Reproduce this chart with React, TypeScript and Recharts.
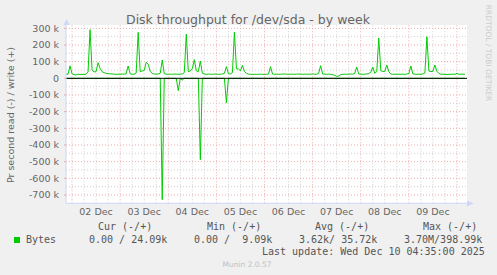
import { ComposedChart, Line, XAxis, YAxis, ReferenceLine } from 'recharts'

// hourly samples, in k (bytes/s), starting Dec 1 21:00
const writeK = [
  26, 24, 75, 28, 22, 20, 25, 23, 24, 23, 25, 38, 292, 50, 38, 40, 94, 60, 40, 34, 30, 28, 27, 26,
  25, 24, 25, 24, 26, 25, 28, 74, 27, 24, 25, 32, 276, 40, 44, 48, 96, 84, 42, 30, 26, 25, 26, 30,
  110, 28, 25, 24, 25, 24, 26, 25, 24, 25, 26, 34, 265, 40, 44, 58, 112, 45, 40, 104, 30, 26, 24, 25,
  25, 24, 26, 25, 24, 25, 26, 30, 70, 28, 26, 34, 278, 58, 56, 45, 78, 40, 30, 25, 24, 23, 24, 24,
  24, 25, 24, 23, 24, 26, 70, 26, 24, 25, 24, 25, 25, 26, 25, 24, 25, 25, 24, 25, 26, 25, 24, 25,
  25, 24, 25, 26, 25, 24, 30, 76, 26, 25, 24, 25, 24, 22, 18, 12, 14, 22, 24, 25, 24, 25, 26, 25,
  30, 68, 26, 25, 24, 25, 26, 28, 36, 68, 30, 40, 242, 45, 42, 40, 80, 40, 26, 24, 25, 24, 25, 24,
  25, 24, 26, 28, 74, 27, 25, 24, 25, 24, 26, 32, 250, 44, 40, 42, 80, 42, 30, 24, 25, 24, 23, 24,
  24, 25, 24, 30, 24, 25, 25, 24,
]

const readK = [
  0, 0, 0, 0, 0, 0, 0, 0, 0, 0, 0, 0, 0, 0, 0, 0, 0, 0, 0, 0, 0, 0, 0, 0,
  0, 0, 0, 0, 0, 0, 0, 0, 0, 0, 0, 0, 0, 0, 0, 0, 0, 0, 0, 0, 0, 0, 0, 0,
  -728, 0, 0, 0, 0, 0, 0, 0, -74, 0, -10, 0, 0, 0, 0, 0, 0, 0, 0, -488, 0, 0, 0, 0,
  0, 0, 0, 0, 0, 0, 0, 0, -146, 0, 0, 0, 0, 0, 0, 0, 0, 0, 0, 0, 0, 0, 0, 0,
  0, 0, 0, 0, 0, 0, 0, 0, 0, 0, 0, 0, 0, 0, 0, 0, 0, 0, 0, 0, 0, 0, 0, 0,
  0, 0, 0, 0, 0, 0, 0, 0, 0, 0, 0, 0, 0, 0, 0, 0, 0, 0, 0, 0, 0, 0, 0, 0,
  0, 0, 0, 0, 0, 0, 0, 0, 0, 0, 0, 0, 0, 0, 0, 0, 0, 0, 0, 0, 0, 0, 0, 0,
  0, 0, 0, 0, 0, 0, 0, 0, 0, 0, 0, 0, 0, 0, 0, 0, 0, 0, 0, 0, 0, 0, 0, 0,
  0, 0, 0, 0, 0, 0, 0, 0,
]

const dayLabels = ['02 Dec', '03 Dec', '04 Dec', '05 Dec', '06 Dec', '07 Dec', '08 Dec', '09 Dec']
const dayLabelHours = [15, 39, 63, 87, 111, 135, 159, 183]
const midnightHours = [3, 27, 51, 75, 99, 123, 147, 171, 195]
const sixHourHours = [
  9, 15, 21, 33, 39, 45, 57, 63, 69, 81, 87, 93, 105, 111, 117,
  129, 135, 141, 153, 159, 165, 177, 183, 189,
]
const yTicks = [-700, -600, -500, -400, -300, -200, -100, 0, 100, 200, 300]
const yMajor = [-700, -600, -500, -400, -300, -200, -100, 100, 200, 300]
const yMinor = [-650, -550, -450, -350, -250, -150, -50, 50, 150, 250]

const data = writeK.map((w, i) => ({ h: i, write: w, read: readK[i] }))

const FONT = 'DejaVu Sans, sans-serif'
const MONO = 'DejaVu Sans Mono, monospace'
const TXT = '#666'
const AXIS = '#cfd6f8'

const mono = (left: number, top: number, text: string) => (
  <div style={{ position: 'absolute', left, top: top - 6, lineHeight: '12px', fontFamily: MONO, fontSize: 10, color: '#555', whiteSpace: 'pre' }}>
    {text}
  </div>
)

export default function App() {
  return (
    <div style={{ position: 'fixed', left: 0, top: 0, width: 497, height: 275, background: '#f0f0f0', overflow: 'hidden' }}>
      <ComposedChart width={497} height={275} data={data} margin={{ top: 25, right: 30, bottom: 51.7, left: 0 }}>
        <rect x={66} y={25} width={401} height={178.3} fill="#fff" />
        {yMinor.map(v => (
          <ReferenceLine key={'ym' + v} y={v} stroke="#cfcfcf" strokeDasharray="1 2" />
        ))}
        {sixHourHours.map(h => (
          <ReferenceLine key={'xm' + h} x={h} stroke="#cfcfcf" strokeDasharray="1 2" />
        ))}
        {yMajor.map(v => (
          <ReferenceLine key={'yM' + v} y={v} stroke="#f0a8a8" strokeDasharray="1 2" />
        ))}
        {midnightHours.map(h => (
          <ReferenceLine key={'xM' + h} x={h} stroke="#f0a8a8" strokeDasharray="1 2" />
        ))}
        <XAxis
          type="number"
          dataKey="h"
          domain={[0, 200]}
          ticks={dayLabelHours}
          tickFormatter={(v: number) => dayLabels[dayLabelHours.indexOf(v)]}
          tickLine={false}
          tickSize={0}
          tickMargin={5}
          height={20}
          axisLine={{ stroke: AXIS }}
          tick={{ fill: TXT, fontSize: 9.5, fontFamily: FONT }}
          allowDataOverflow
        />
        <YAxis
          type="number"
          domain={[-750, 320]}
          ticks={yTicks}
          tickFormatter={(v: number) => (v === 0 ? '0' : `${v} k`)}
          width={66}
          tickLine={{ stroke: '#f0a8a8' }}
          tickSize={2}
          tickMargin={5}
          axisLine={{ stroke: AXIS }}
          tick={{ fill: TXT, fontSize: 9.5, fontFamily: FONT }}
          allowDataOverflow
        />
        <Line dataKey="read" stroke="#00cc00" strokeWidth={1} dot={false} isAnimationActive={false} />
        <Line dataKey="write" stroke="#00cc00" strokeWidth={1} dot={false} isAnimationActive={false} />
        <ReferenceLine y={0} stroke="#000" strokeWidth={1} />
      </ComposedChart>

      {/* axis arrows, as rrdtool draws them */}
      <svg width={497} height={275} style={{ position: 'absolute', left: 0, top: 0, pointerEvents: 'none' }}>
        <line x1={66.5} y1={25} x2={66.5} y2={20} stroke={AXIS} />
        <polygon points="63.5,25 69.5,25 66.5,19" fill={AXIS} />
        <line x1={467} y1={203.5} x2={472} y2={203.5} stroke={AXIS} />
        <polygon points="467,200.5 467,206.5 474,203.5" fill={AXIS} />
      </svg>

      <div style={{ position: 'absolute', left: 248, top: 19, transform: 'translate(-50%, -50%)', fontFamily: FONT, fontSize: 12.5, color: TXT, whiteSpace: 'nowrap' }}>
        Disk throughput for /dev/sda - by week
      </div>
      <div style={{ position: 'absolute', left: 10, top: 115, transform: 'translate(-50%, -50%) rotate(-90deg)', fontFamily: FONT, fontSize: 9.5, color: TXT, whiteSpace: 'nowrap' }}>
        Pr second read (-) / write (+)
      </div>
      <div style={{ position: 'absolute', left: 488, top: 53, transform: 'translate(-50%, -50%) rotate(90deg)', fontFamily: FONT, fontSize: 7.5, color: '#cccccc', whiteSpace: 'nowrap' }}>
        RRDTOOL / TOBI OETIKER
      </div>

      {mono(98, 227, 'Cur (-/+)')}
      {mono(207, 227, 'Min (-/+)')}
      {mono(315, 227, 'Avg (-/+)')}
      {mono(423, 227, 'Max (-/+)')}
      <div style={{ position: 'absolute', left: 14, top: 237, width: 6, height: 6, background: '#00cc00' }} />
      {mono(26, 240, 'Bytes')}
      {mono(89, 240, '0.00 / 24.09k')}
      {mono(194, 240, '0.00 /  9.09k')}
      {mono(299, 240, '3.62k/ 35.72k')}
      {mono(404, 240, '3.70M/398.99k')}
      {mono(262, 252, 'Last update: Wed Dec 10 04:35:00 2025')}
      <div style={{ position: 'absolute', left: 247, top: 264, transform: 'translate(-50%, -50%)', fontFamily: FONT, fontSize: 7.5, color: '#c0c0c0', whiteSpace: 'nowrap' }}>
        Munin 2.0.57
      </div>
    </div>
  )
}
